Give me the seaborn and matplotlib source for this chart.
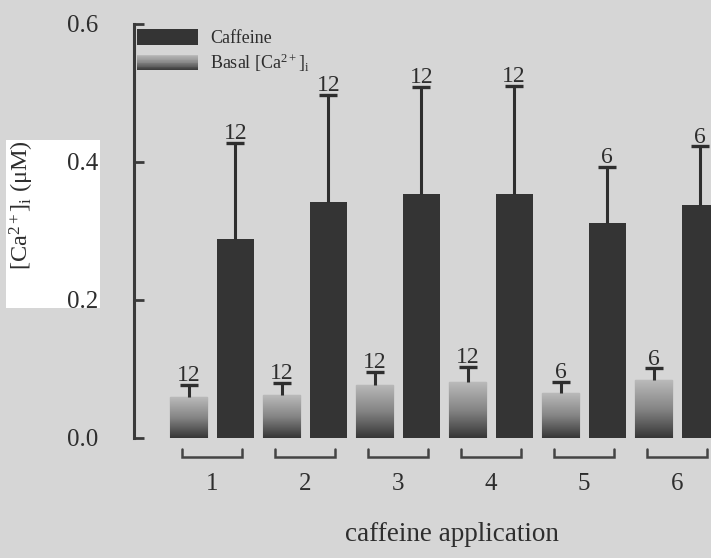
import numpy as np
import pandas as pd
import matplotlib
matplotlib.use("Agg")
import matplotlib.pyplot as plt
import seaborn as sns
from matplotlib.legend_handler import HandlerBase
from matplotlib.patches import Rectangle, Patch
from matplotlib.colors import LinearSegmentedColormap

# ---- data ----
groups = ["1", "2", "3", "4", "5", "6"]
basal = [0.059, 0.062, 0.077, 0.081, 0.065, 0.084]
basal_err = [0.018, 0.018, 0.019, 0.022, 0.016, 0.017]
caffeine = [0.288, 0.342, 0.354, 0.354, 0.312, 0.338]
caffeine_err = [0.140, 0.155, 0.155, 0.156, 0.081, 0.085]
n_basal = [12, 12, 12, 12, 6, 6]
n_caffeine = [12, 12, 12, 12, 6, 6]
yticks = [0.0, 0.2, 0.4, 0.6]

BG = "#d6d6d6"
DARK = "#343434"
INK = "#2e2e2e"

sns.set_theme(style="white")
plt.rcParams["font.family"] = ["Liberation Serif", "DejaVu Serif"]
plt.rcParams["mathtext.fontset"] = "custom"
plt.rcParams["mathtext.rm"] = "Liberation Serif"
plt.rcParams["mathtext.it"] = "Liberation Serif:italic"

df = pd.DataFrame({
    "group": groups * 2,
    "condition": ["Basal"] * 6 + ["Caffeine"] * 6,
    "value": basal + caffeine,
})

fig = plt.figure(figsize=(7.11, 5.58), dpi=100, facecolor=BG)
# white pasted patch behind y label
fig.patches.append(Rectangle((6 / 711, (558 - 308) / 558), 94 / 711, 168 / 558,
                             transform=fig.transFigure, facecolor="white",
                             edgecolor="none", zorder=-1))
ax = fig.add_axes([134 / 711, 120 / 558, 577 / 711, 414 / 558])
ax.set_facecolor(BG)

sns.barplot(data=df, x="group", y="value", hue="condition",
            hue_order=["Basal", "Caffeine"],
            palette={"Basal": "#888888", "Caffeine": DARK},
            width=1.0, gap=0.2, errorbar=None, legend=False, ax=ax,
            linewidth=0)

cmap = LinearSegmentedColormap.from_list("grad", ["#363636", "#858585", "#bababa"])
grad = np.linspace(0, 1, 256).reshape(-1, 1)

basal_bars = ax.containers[0]
caff_bars = ax.containers[1]
for bar in basal_bars:
    x0 = bar.get_x()
    w = bar.get_width()
    h = bar.get_height()
    im = ax.imshow(grad, extent=[x0, x0 + w, 0, h], origin="lower", cmap=cmap,
                   aspect="auto", zorder=bar.get_zorder() + 0.1)
    im.set_clip_path(bar)
    bar.set_edgecolor("#555555")
    bar.set_linewidth(0.8)

for cont, vals, errs, ns in [(basal_bars, basal, basal_err, n_basal),
                             (caff_bars, caffeine, caffeine_err, n_caffeine)]:
    xs = [b.get_x() + b.get_width() / 2 for b in cont]
    eb = ax.errorbar(xs, vals, yerr=[np.zeros(len(vals)), errs], fmt="none",
                     ecolor=INK, elinewidth=2.2, capsize=6.5, capthick=2.4,
                     zorder=3)
    for cl in eb.lines[1]:
        if np.allclose(cl.get_ydata(), vals):
            cl.set_visible(False)
    for x, v, e, n in zip(xs, vals, errs, ns):
        ax.annotate(str(n), (x, v + e), xytext=(0, -1), textcoords="offset points",
                    ha="center", va="bottom", fontsize=17, color=INK)

# group brackets under each pair
for i in range(len(groups)):
    ax.plot([i - 0.32, i - 0.32, i + 0.32, i + 0.32],
            [-0.016, -0.027, -0.027, -0.016], color="#444444", lw=1.8,
            clip_on=False, solid_joinstyle="miter")

ax.set_xlim(-0.839, 5.366)
ax.set_ylim(0, 0.6)
ax.set_yticks(yticks)
ax.set_yticklabels([f"{t:.1f}" for t in yticks])

for s in ["top", "right", "bottom"]:
    ax.spines[s].set_visible(False)
ax.spines["left"].set_color("#3a3a3a")
ax.spines["left"].set_linewidth(2.2)

ax.tick_params(axis="y", direction="in", length=7, width=2, color="#3a3a3a",
               pad=26, labelsize=18, labelcolor=INK, left=True)
ax.tick_params(axis="x", length=0, pad=25, labelsize=18, labelcolor=INK)

ax.set_xlabel("caffeine application", fontsize=19.5, color=INK)
ax.xaxis.set_label_coords(0.551, -0.234)
ax.xaxis.label.set_va("center")
ax.set_ylabel("[Ca$^{2+}$]$_{\\rm i}$ (μM)", fontsize=17.5, color=INK)
ax.yaxis.set_label_coords(-0.194, 0.563)
ax.yaxis.label.set_va("center")


class GradHandler(HandlerBase):
    def create_artists(self, legend, orig_handle, xdescent, ydescent, width,
                       height, fontsize, trans):
        arts = []
        n = 20
        for k in range(n):
            r = Rectangle((-xdescent, -ydescent + height * k / n), width,
                          height / n * 1.05, facecolor=cmap(k / (n - 1)),
                          edgecolor="none", transform=trans)
            arts.append(r)
        return arts


h_caff = Patch(facecolor=DARK, edgecolor="none")
h_basal = Patch(facecolor="#888888", edgecolor="none")
ax.legend([h_caff, h_basal], ["Caffeine", "Basal [Ca$^{2+}$]$_{\\rm i}$"],
          handler_map={h_basal: GradHandler()},
          loc="upper left", bbox_to_anchor=(0.0052, 0.988), frameon=False,
          fontsize=13, handlelength=3.4, handleheight=0.95, labelspacing=0.25,
          handletextpad=0.65, borderpad=0, borderaxespad=0, labelcolor=INK)

fig.savefig("out.png", dpi=100, facecolor=BG)
